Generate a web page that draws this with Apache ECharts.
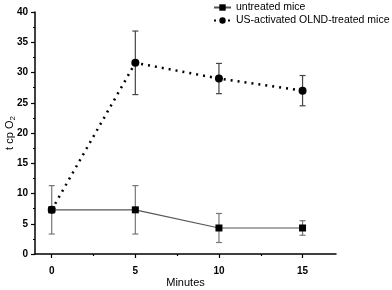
<!DOCTYPE html>
<html><head><meta charset="utf-8">
<script src="https://cdn.jsdelivr.net/npm/echarts@6/dist/echarts.min.js"></script>
<style>html,body{margin:0;padding:0;background:#fff}#c{width:392px;height:290px}</style>
</head><body><div id="c"></div>
<script>
const minutes = [0, 5, 10, 15];
const untreated = [7.3, 7.3, 4.3, 4.3];
const untreatedErr = [4.0, 4.0, 2.4, 1.2];
const treated = [7.3, 31.6, 29.0, 27.0];
const treatedErr = [0, 5.25, 2.5, 2.5];
const xTicks = [0, 5, 10, 15];
const xMinorTicks = [2.5, 7.5, 12.5];
const names = ['untreated mice', 'US-activated OLND-treated mice'];

const font = 'Liberation Sans, Arial, sans-serif';
function pts(v) { return minutes.map((m, i) => [m, v[i]]); }
function errData(v, e) { return minutes.map((m, i) => [m, v[i] - e[i], v[i] + e[i]]); }
function errSeries(v, e, color) {
  return {
    type: 'custom', xAxisIndex: 0, yAxisIndex: 0, silent: true, z: 1,
    data: errData(v, e),
    renderItem: function (params, api) {
      const x = api.value(0), lo = api.value(1), hi = api.value(2);
      if (hi - lo <= 0) return null;
      const p1 = api.coord([x, lo]), p2 = api.coord([x, hi]);
      const w = 3;
      const st = { stroke: color, lineWidth: 1.2 };
      return { type: 'group', children: [
        { type: 'line', shape: { x1: p1[0], y1: p1[1], x2: p2[0], y2: p2[1] }, style: st },
        { type: 'line', shape: { x1: p1[0] - w, y1: p1[1], x2: p1[0] + w, y2: p1[1] }, style: st },
        { type: 'line', shape: { x1: p2[0] - w, y1: p2[1], x2: p2[0] + w, y2: p2[1] }, style: st }
      ]};
    }
  };
}

const chart = echarts.init(document.getElementById('c'), null, { renderer: 'canvas' });
chart.setOption({
  animation: false,
  backgroundColor: '#fff',
  grid: { left: 35, right: 56, top: 12, bottom: 36, containLabel: false, outerBoundsMode: 'none' },
  legend: {
    orient: 'vertical', left: 208, top: -3, itemGap: 2, itemWidth: 17, itemHeight: 8,
    textStyle: { fontFamily: font, fontSize: 10.5, color: '#000' },
    data: names
  },
  xAxis: [{
    type: 'value', min: -1, max: 17,
    name: 'Minutes', nameLocation: 'middle', nameGap: 23, nameMoveOverlap: false,
    nameTextStyle: { fontFamily: font, fontSize: 11, color: '#000' },
    axisLine: { onZero: false, lineStyle: { color: '#000', width: 1.5 } },
    axisTick: { customValues: xTicks, length: 4, lineStyle: { color: '#000', width: 1.2 } },
    axisLabel: { customValues: xTicks, margin: 12, fontFamily: font, fontSize: 10, fontWeight: 'bold', color: '#000' },
    splitLine: { show: false }
  }, {
    type: 'value', min: -1, max: 17, position: 'bottom',
    axisLine: { show: false, onZero: false },
    axisTick: { customValues: xMinorTicks, length: 2, lineStyle: { color: '#000', width: 1.2 } },
    axisLabel: { show: false },
    splitLine: { show: false }
  }],
  yAxis: {
    type: 'value', min: 0, max: 40, interval: 5,
    name: '{a|t cp O}{s|2}', nameLocation: 'middle', nameGap: 18, nameRotate: 90, nameMoveOverlap: false,
    nameTextStyle: { fontFamily: font, fontSize: 11, color: '#000',
      rich: { a: { fontFamily: font, fontSize: 11, color: '#000' },
              s: { fontFamily: font, fontSize: 8, color: '#000', verticalAlign: 'bottom', padding: [6, 0, 0, 0] } } },
    axisLine: { show: true, onZero: false, lineStyle: { color: '#000', width: 1.5 } },
    axisTick: { show: true, length: 4, lineStyle: { color: '#000', width: 1.2 } },
    minorTick: { show: true, splitNumber: 2, length: 2, lineStyle: { color: '#000', width: 1.2 } },
    axisLabel: { margin: 7, fontFamily: font, fontSize: 10, fontWeight: 'bold', color: '#000' },
    splitLine: { show: false }
  },
  series: [
    errSeries(untreated, untreatedErr, '#777'),
    errSeries(treated, treatedErr, '#444'),
    {
      name: names[1], type: 'line', data: pts(treated), z: 2,
      symbol: 'circle', symbolSize: 8,
      itemStyle: { color: '#000' },
      lineStyle: { color: '#000', width: 2.5, type: [2, 5] }
    },
    {
      name: names[0], type: 'line', data: pts(untreated), z: 3,
      symbol: 'rect', symbolSize: 7,
      itemStyle: { color: '#000' },
      lineStyle: { color: '#555', width: 1.2 }
    }
  ]
});
</script></body></html>
